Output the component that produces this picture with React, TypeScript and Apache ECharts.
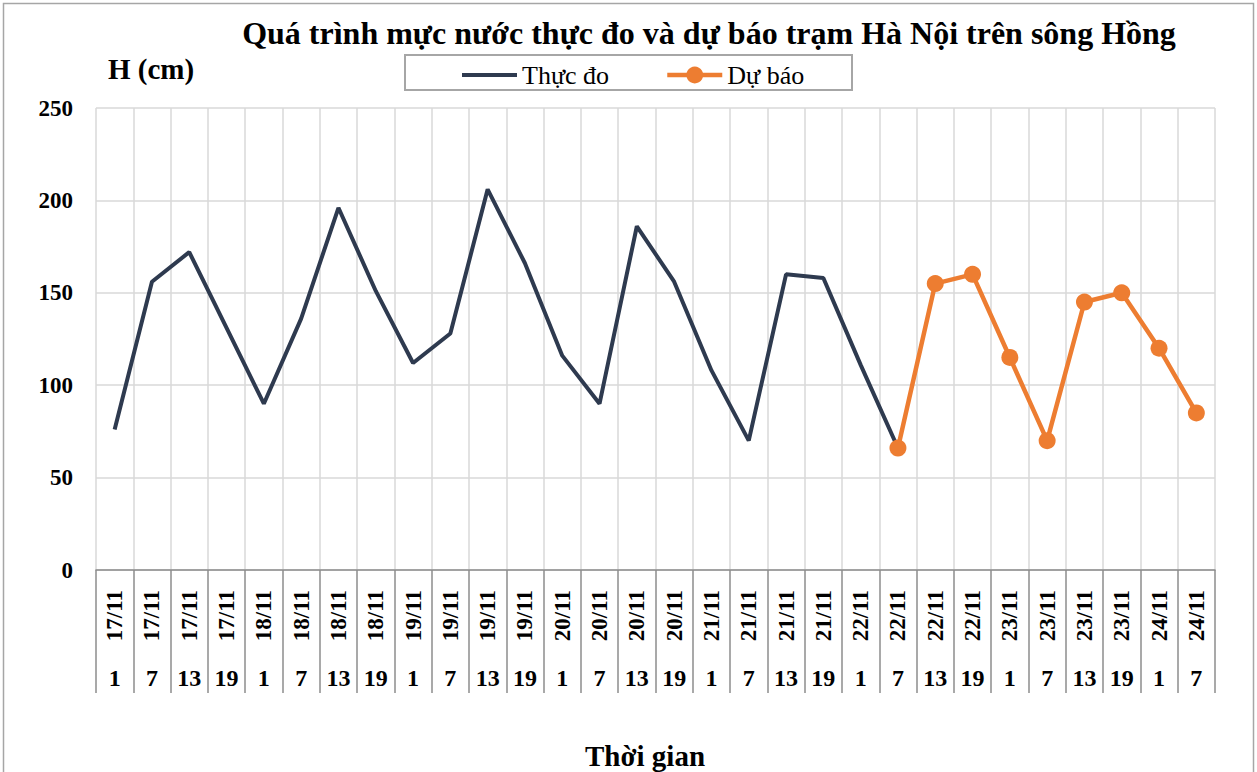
import React, { useEffect, useRef } from "react";
import * as echarts from "echarts";

const dates = [
  "17/11", "17/11", "17/11", "17/11",
  "18/11", "18/11", "18/11", "18/11",
  "19/11", "19/11", "19/11", "19/11",
  "20/11", "20/11", "20/11", "20/11",
  "21/11", "21/11", "21/11", "21/11",
  "22/11", "22/11", "22/11", "22/11",
  "23/11", "23/11", "23/11", "23/11",
  "24/11", "24/11",
];
const hours = [
  "1", "7", "13", "19", "1", "7", "13", "19", "1", "7", "13", "19",
  "1", "7", "13", "19", "1", "7", "13", "19", "1", "7", "13", "19",
  "1", "7", "13", "19", "1", "7",
];
const measured = [
  76, 156, 172, 131, 90, 136, 196, 151, 112, 128, 206, 166,
  116, 90, 186, 156, 108, 70, 160, 158, 111, 66,
  null, null, null, null, null, null, null, null,
];
const forecast = [
  null, null, null, null, null, null, null, null, null, null, null, null,
  null, null, null, null, null, null, null, null, null,
  66, 155, 160, 115, 70, 145, 150, 120, 85,
];
const yTicks = { min: 0, max: 250, interval: 50 };

const titleText = "Quá trình mực nước thực đo và dự báo trạm Hà Nội trên sông Hồng";
const yName = "H (cm)";
const xName = "Thời gian";
const seriesNames = ["Thực đo", "Dự báo"];

const FONT = "'Liberation Serif', 'Times New Roman', serif";
const DARK = "#2e3a4f";
const ORANGE = "#ed7d31";

export default function App() {
  const ref = useRef<HTMLDivElement>(null);
  useEffect(() => {
    if (!ref.current) return;
    const chart = echarts.init(ref.current, null, { renderer: "svg" });
    chart.setOption({
      animation: false,
      backgroundColor: "#ffffff",
      grid: { left: 96, right: 42, top: 108, bottom: 202 },
      graphic: [
        {
          type: "rect",
          shape: { x: 3.5, y: 3.5, width: 1250, height: 800 },
          style: { fill: "none", stroke: "#a6a6a6", lineWidth: 1.5 },
          silent: true,
        },
        {
          type: "rect",
          shape: { x: 405, y: 55, width: 447, height: 35 },
          style: { fill: "#fff", stroke: "#a6a6a6", lineWidth: 2 },
          z: 0,
          silent: true,
        },
        {
          type: "text",
          x: 709,
          y: 33,
          style: {
            text: titleText,
            font: `bold 32px ${FONT}`,
            fill: "#000",
            align: "center",
            verticalAlign: "middle",
            textAlign: "center",
            textVerticalAlign: "middle",
          },
        },
        {
          type: "text",
          x: 108,
          y: 69,
          style: {
            text: yName,
            font: `bold 29px ${FONT}`,
            fill: "#000",
            align: "left",
            verticalAlign: "middle",
            textAlign: "left",
            textVerticalAlign: "middle",
          },
        },
        {
          type: "text",
          x: 645,
          y: 756,
          style: {
            text: xName,
            font: `bold 29px ${FONT}`,
            fill: "#000",
            align: "center",
            verticalAlign: "middle",
            textAlign: "center",
            textVerticalAlign: "middle",
          },
        },
      ],
      legend: {
        data: [
          { name: seriesNames[0], icon: "path://M0,0L55,0L55,4L0,4Z" },
          { name: seriesNames[1] },
        ],
        left: 462,
        top: 62,
        padding: 0,
        itemWidth: 55,
        itemHeight: 21,
        itemGap: 56,
        lineStyle: { width: 4.5 },
        textStyle: { fontFamily: FONT, fontSize: 26, color: "#000" },
        z: 5,
      },
      xAxis: [
        {
          type: "category",
          data: dates,
          position: "bottom",
          boundaryGap: true,
          axisLine: { show: true, lineStyle: { color: "#8c8c8c", width: 1.5 } },
          axisTick: {
            show: true,
            interval: 0,
            length: 123,
            lineStyle: { color: "#8c8c8c", width: 1.5 },
          },
          axisLabel: {
            interval: 0,
            rotate: 90,
            margin: 20,
            fontFamily: FONT,
            fontSize: 23,
            fontWeight: "bold",
            color: "#000",
          },
          splitLine: { show: true, interval: 0, lineStyle: { color: "#d9d9d9", width: 1.5 } },
        },
        {
          type: "category",
          data: hours,
          position: "bottom",
          boundaryGap: true,
          axisLine: { show: false },
          axisTick: { show: false },
          axisLabel: {
            interval: 0,
            margin: 96,
            fontFamily: FONT,
            fontSize: 24,
            fontWeight: "bold",
            color: "#000",
          },
          splitLine: { show: false },
        },
      ],
      yAxis: {
        type: "value",
        min: yTicks.min,
        max: yTicks.max,
        interval: yTicks.interval,
        axisLine: { show: false },
        axisTick: { show: false },
        axisLabel: {
          margin: 23,
          fontFamily: FONT,
          fontSize: 23,
          fontWeight: "bold",
          color: "#000",
        },
        splitLine: { show: true, lineStyle: { color: "#d9d9d9", width: 1.5 } },
      },
      series: [
        {
          name: seriesNames[0],
          type: "line",
          xAxisIndex: 0,
          data: measured,
          symbol: "none",
          lineStyle: { color: DARK, width: 4 },
          itemStyle: { color: DARK },
          z: 2,
        },
        {
          name: seriesNames[1],
          type: "line",
          xAxisIndex: 0,
          data: forecast,
          symbol: "circle",
          symbolSize: 17,
          lineStyle: { color: ORANGE, width: 4.5 },
          itemStyle: { color: ORANGE },
          z: 3,
        },
      ],
    });
    return () => chart.dispose();
  }, []);
  return (
    <div
      ref={ref}
      style={{ position: "absolute", left: 0, top: 0, width: 1257, height: 772 }}
    />
  );
}
